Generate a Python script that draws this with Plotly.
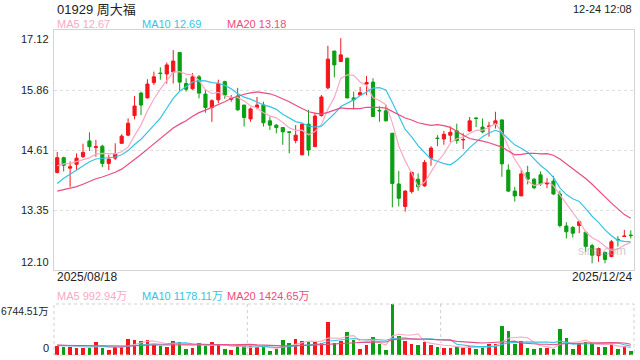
import pandas as pd
import plotly.graph_objects as go

# ---------------- data ----------------
stock_title = "01929 周大福"
time_label = "12-24 12:08"
hk_holidays = ["2025-10-01", "2025-10-07", "2025-10-29"]
trade_days = [d for d in pd.bdate_range("2025-08-18", "2025-12-24")
              if d.strftime("%Y-%m-%d") not in hk_holidays]
date_labels = [d.strftime("%Y/%m/%d") for d in trade_days]

opens = [14.14, 14.45, 14.23, 14.31, 14.47, 14.80, 14.66, 14.69, 14.33, 14.44,
         14.75, 14.92, 15.33, 15.80, 15.70, 16.02, 16.22, 16.20, 16.24, 16.65,
         16.00, 15.89, 16.14, 15.78, 15.50, 15.66, 16.04, 15.67, 15.74, 15.55,
         15.26, 15.50, 15.55, 15.22, 15.13, 15.08, 14.99, 14.81, 14.51, 15.15,
         14.68, 15.33, 15.91, 16.68, 16.46, 16.53, 15.70, 15.76, 15.99, 16.03,
         15.44, 15.43, 14.96, 13.90, 13.43, 13.74, 14.00, 13.86, 14.44, 14.86,
         14.84, 14.92, 15.01, 14.82, 15.01, 15.28, 15.09, 15.10, 15.15, 15.24,
         14.19, 13.75, 13.65, 14.14, 14.00, 14.09, 13.90, 13.96, 13.69, 13.02,
         12.99, 13.03, 12.89, 12.61, 12.40, 12.47, 12.38, 12.74, 12.80, 12.83]
highs = [14.57, 14.47, 14.37, 14.54, 14.74, 14.98, 14.82, 14.72, 14.51, 14.75,
         14.94, 15.27, 15.74, 15.83, 16.09, 16.25, 16.34, 16.44, 16.70, 16.66,
         16.11, 16.22, 16.18, 15.87, 15.67, 16.08, 16.06, 15.76, 15.91, 15.55,
         15.50, 15.72, 15.62, 15.31, 15.15, 15.08, 14.99, 15.13, 15.16, 15.45,
         15.39, 15.76, 16.79, 16.68, 16.95, 16.54, 15.83, 15.93, 16.16, 16.11,
         15.52, 15.55, 14.97, 14.17, 13.77, 14.16, 14.12, 14.40, 14.69, 14.92,
         15.01, 15.10, 15.16, 14.96, 15.30, 15.29, 15.27, 15.20, 15.41, 15.24,
         14.31, 13.84, 14.19, 14.28, 14.02, 14.16, 14.02, 14.07, 13.76, 13.10,
         13.02, 13.13, 12.90, 12.65, 12.57, 12.48, 12.73, 12.81, 12.94, 12.93]
lows = [14.12, 14.16, 13.84, 14.19, 14.44, 14.59, 14.47, 14.25, 14.19, 14.40,
        14.74, 14.90, 15.25, 15.34, 15.69, 15.97, 16.08, 16.00, 16.00, 15.85,
        15.83, 15.87, 15.69, 15.39, 15.20, 15.59, 15.68, 15.62, 15.43, 15.10,
        15.20, 15.46, 15.10, 15.03, 14.96, 14.72, 14.54, 14.75, 14.50, 14.49,
        14.67, 15.31, 15.88, 16.13, 16.45, 15.69, 15.46, 15.74, 15.76, 15.30,
        15.20, 15.21, 13.41, 13.43, 13.32, 13.70, 13.76, 13.84, 14.28, 14.69,
        14.72, 14.78, 14.74, 14.63, 14.99, 15.09, 14.96, 14.89, 15.06, 14.05,
        13.73, 13.53, 13.65, 13.89, 13.79, 13.86, 13.81, 13.67, 12.99, 12.76,
        12.78, 12.87, 12.48, 12.24, 12.27, 12.24, 12.37, 12.59, 12.80, 12.76]
closes = [14.45, 14.29, 14.26, 14.44, 14.56, 14.68, 14.68, 14.33, 14.42, 14.53,
          14.90, 15.17, 15.53, 15.55, 15.99, 16.14, 16.21, 16.39, 16.47, 16.03,
          15.88, 16.14, 15.80, 15.50, 15.64, 16.00, 15.76, 15.69, 15.45, 15.29,
          15.47, 15.55, 15.18, 15.13, 15.08, 14.99, 14.98, 14.92, 15.15, 14.61,
          15.32, 15.72, 16.51, 16.39, 16.60, 15.70, 15.66, 15.81, 16.02, 15.31,
          15.43, 15.22, 13.91, 13.60, 13.75, 14.14, 13.84, 14.35, 14.65, 14.85,
          14.94, 14.98, 14.81, 14.83, 15.22, 15.27, 14.99, 15.11, 15.22, 14.32,
          13.75, 13.65, 14.11, 14.00, 13.82, 13.90, 13.92, 13.69, 13.03, 12.90,
          12.87, 13.11, 12.59, 12.41, 12.55, 12.32, 12.69, 12.73, 12.81, 12.82]
# volume in 万 shares
volumes = [1147, 1014, 1014, 969, 969, 969, 1718, 925, 661, 1058,
           1102, 2115, 1983, 1851, 1983, 1366, 1234, 1058, 1895, 1718,
           793, 969, 1586, 1234, 1718, 1410, 793, 661, 1190, 1234,
           1190, 1014, 1014, 529, 793, 1983, 1586, 2115, 1851, 1762,
           1762, 1542, 4363, 1542, 1851, 3041, 2027, 793, 1322, 2380,
           1454, 661, 6744.51, 2512, 1851, 1454, 1322, 1762, 1322, 1058,
           969, 969, 1058, 969, 1234, 793, 1014, 1498, 1498, 3878,
           3172.9, 1498, 1851, 969, 793, 969, 969, 793, 3500, 2197,
           850.4, 1560, 1700, 1620, 1086, 1058, 1498, 793, 1146, 469.7]
# sessions before the window (feed the moving averages at the left edge)
prior_closes = [13.70, 13.75, 13.65, 13.60, 13.50, 13.55, 13.60, 13.50, 13.45, 13.60,
                13.20, 13.40, 13.55, 13.70, 13.85, 14.09, 14.21, 14.24, 14.41]
prior_volumes = [1300, 1500, 1200, 1400, 1100, 1600, 1300, 1250, 1500, 1350,
                 1000, 1100, 900, 1050, 1200, 1500, 1300, 1600, 1400]
ma_periods = [5, 10, 20]
ma_colors = ["#f9a9c4", "#38c3e3", "#ea4d80"]
price_ticks = [17.12, 15.86, 14.61, 13.35, 12.10]
vol_max_label = "6744.51万"

# ---------------- derived ----------------
n_prior = len(prior_closes)
all_close = pd.Series(prior_closes + closes)
all_vol = pd.Series(prior_volumes + volumes)
price_ma = {p: all_close.rolling(p).mean().iloc[n_prior:].tolist() for p in ma_periods}
vol_ma = {p: all_vol.rolling(p).mean().iloc[n_prior:].tolist() for p in ma_periods}

UP, DOWN = "#f5161b", "#0b9e12"
vol_colors = [UP if c >= o else DOWN for o, c in zip(opens, closes)]

W, H = 640, 360
L, R, T, B = 54, 6, 30, 5
PX0, PX1, PY0, PY1 = L, W - R, T, H - B


def px(x):
    return (x - PX0) / (PX1 - PX0)


def py(y):
    return (PY1 - y) / (PY1 - PY0)


main_bottom = py(270)
vol_top = py(304)

FONT = "Liberation Sans, Arial, 'Noto Sans CJK SC', sans-serif"

fig = go.Figure()
fig.add_trace(go.Candlestick(
    x=date_labels, open=opens, high=highs, low=lows, close=closes,
    increasing=dict(line=dict(color=UP, width=1), fillcolor=UP),
    decreasing=dict(line=dict(color=DOWN, width=1), fillcolor=DOWN),
    whiskerwidth=0, showlegend=False, xaxis="x", yaxis="y", hoverinfo="skip"))
for p, col in zip(ma_periods, ma_colors):
    fig.add_trace(go.Scatter(x=date_labels, y=price_ma[p], mode="lines",
                             line=dict(color=col, width=1.2), showlegend=False,
                             xaxis="x", yaxis="y", hoverinfo="skip"))
fig.add_trace(go.Bar(x=date_labels, y=volumes, marker=dict(color=vol_colors, line=dict(width=0)),
                     width=0.55, showlegend=False, xaxis="x2", yaxis="y2", hoverinfo="skip"))
for p, col in zip(ma_periods, ma_colors):
    fig.add_trace(go.Scatter(x=date_labels, y=vol_ma[p], mode="lines",
                             line=dict(color=col, width=1.1), showlegend=False,
                             xaxis="x2", yaxis="y2", hoverinfo="skip"))

xr = [-0.5, len(date_labels) - 0.5]
fig.update_layout(
    width=W, height=H, margin=dict(l=L, r=R, t=T, b=B),
    paper_bgcolor="white", plot_bgcolor="white",
    font=dict(family=FONT, size=11, color="#333"),
    bargap=0,
    xaxis=dict(type="category", range=xr, domain=[0, 1], anchor="y",
               showticklabels=False, showgrid=False, ticks="",
               showline=True, linecolor="#d4d4d4", mirror=True,
               rangeslider=dict(visible=False), fixedrange=True),
    yaxis=dict(range=[price_ticks[-1], price_ticks[0]], domain=[main_bottom, 1],
               anchor="x", tickvals=price_ticks[1:-1], showticklabels=False,
               showgrid=True, gridcolor="#dedede", griddash="dot", gridwidth=1,
               zeroline=False, showline=True, linecolor="#d4d4d4", mirror=True),
    xaxis2=dict(type="category", range=xr, domain=[0, 1], anchor="y2",
                showticklabels=False, showgrid=False, ticks="", showline=False),
    yaxis2=dict(range=[0, max(volumes)], domain=[0, vol_top], anchor="x2",
                showticklabels=False, showgrid=False, zeroline=False, showline=False),
)

# dotted frame + thirds in volume pane
dot = dict(color="#cfcfcf", width=1, dash="dot")
fig.add_shape(type="rect", xref="x2 domain", yref="y2 domain", x0=0, x1=1, y0=0, y1=1, line=dot)
for f in (1 / 3, 2 / 3):
    fig.add_shape(type="line", xref="x2 domain", yref="y2 domain", x0=f, x1=f, y0=0, y1=1, line=dot)

ann = []


def text(s, x, y, xa="left", ya="middle", size=11, color="#333"):
    ann.append(dict(text=s, x=px(x), y=py(y), xref="paper", yref="paper",
                    xanchor=xa, yanchor=ya, showarrow=False,
                    font=dict(size=size, color=color, family=FONT)))


text(stock_title, 55, 9, size=13, color="#222")
text(time_label, 634, 9, xa="right", size=11, color="#222")
leg_x = [55, 140, 225]
for p, col, lx in zip(ma_periods, ma_colors, leg_x):
    text(f"MA{p} {price_ma[p][-1]:.2f}", lx, 24, color=col)
    text(f"MA{p} {vol_ma[p][-1]:.2f}万", lx, 296, color=col)

# price axis labels
for i, v in enumerate(price_ticks):
    ya = "top" if i == 0 else ("bottom" if i == len(price_ticks) - 1 else "middle")
    ann.append(dict(text=f"{v:.2f}", x=px(51), y=v, xref="paper", yref="y",
                    xanchor="right", yanchor=ya, showarrow=False,
                    font=dict(size=11, color="#222", family=FONT), yshift=-1 if ya == "top" else 0))
# volume axis labels
text(vol_max_label, 51, 311, xa="right", size=10.3, color="#222")
text("0", 51, 348, xa="right", color="#222")
# date labels
text(date_labels[0], 55, 277, size=12, color="#222")
text(date_labels[-1], 634, 277, xa="right", size=12, color="#222")
# watermark
text("sina.com", 602, 251, xa="center", size=12, color="rgba(170,170,170,0.6)")

fig.update_layout(annotations=ann)
fig.write_html("out.html", config={"displayModeBar": False},
               post_script="document.body.style.margin='0';document.body.style.overflow='hidden';")
